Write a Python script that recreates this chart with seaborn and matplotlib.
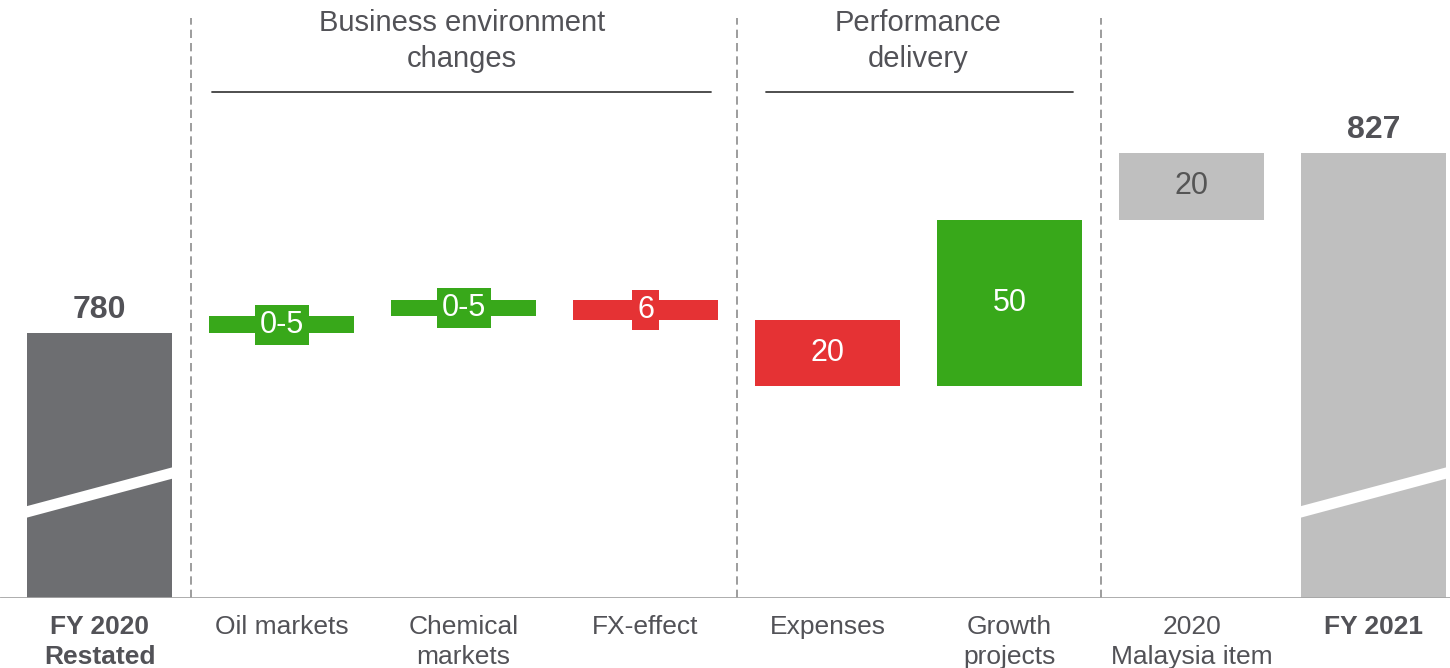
import numpy as np
import pandas as pd
import matplotlib
matplotlib.use("Agg")
import matplotlib.pyplot as plt
import seaborn as sns

# data
categories = ["FY 2020\nRestated", "Oil markets", "Chemical\nmarkets", "FX-effect",
              "Expenses", "Growth\nprojects", "2020\nMalaysia item", "FY 2021"]
start_value = 780
deltas = [5, 5, -6, -20, 50, 20]
delta_labels = ["0-5", "0-5", "6", "20", "50", "20"]
start_label = "780"
end_label = "827"
groups = ["Business environment\nchanges", "Performance\ndelivery"]

# styles
DARK = "#6d6e71"
LIGHT = "#bfbfbf"
GREEN = "#38a81a"
RED = "#e53234"
TXT = "#525257"
bar_colors = [DARK, GREEN, GREEN, RED, RED, GREEN, LIGHT, LIGHT]

sns.set_theme(style="white")
plt.rcParams["font.family"] = ["Liberation Sans", "DejaVu Sans"]

# waterfall geometry
cum = np.concatenate([[start_value], start_value + np.cumsum(deltas)])
bottoms = [0] + [min(cum[i], cum[i + 1]) for i in range(len(deltas))] + [0]
heights = [start_value] + [abs(d) for d in deltas] + [cum[-1]]
df = pd.DataFrame({"cat": categories, "height": heights, "bottom": bottoms})

fig = plt.figure(figsize=(14.5, 6.68), dpi=100)
ax = fig.add_axes([0, 70 / 668, 1, 598 / 668])

sns.barplot(data=df, x="cat", y="height", bottom=df["bottom"].values, color=DARK,
            width=0.8, saturation=1, ax=ax)
for p, c in zip(ax.patches, bar_colors):
    p.set_facecolor(c)
    p.set_edgecolor("none")

y0, y1 = 700.5, 879.9
ax.set_ylim(y0, y1)
ax.set_xlim(-0.547, 7.42)
sns.despine(ax=ax, left=True, top=True, right=True, bottom=True)
ax.set_yticks([])
ax.set_xlabel("")
ax.set_ylabel("")
ax.axhline(y0, color="#a6a6a6", lw=2, zorder=5)

# x labels
ax.set_xticks(range(len(categories)))
ax.set_xticklabels(categories, fontsize=19, color=TXT, linespacing=1.34)
ax.tick_params(axis="x", length=0, pad=12)
for i in (0, len(categories) - 1):
    ax.get_xticklabels()[i].set_fontweight("bold")

# axis break stripes on total bars
for i in (0, len(categories) - 1):
    xs = [i - 0.4, i + 0.4, i + 0.4, i - 0.4]
    ys = [724.6, 736.3, 739.7, 728.05]
    ax.fill(xs, ys, color="white", lw=0, zorder=3)

# value labels
ax.annotate(start_label, (0, start_value), xytext=(0, 6), textcoords="offset points",
            ha="center", va="bottom", fontsize=23, fontweight="bold", color=TXT)
ax.annotate(end_label, (len(categories) - 1, cum[-1]), xytext=(0, 6), textcoords="offset points",
            ha="center", va="bottom", fontsize=23, fontweight="bold", color=TXT)
for k, (lab, d) in enumerate(zip(delta_labels, deltas)):
    i = k + 1
    mid = (cum[k] + cum[k + 1]) / 2
    col = bar_colors[i]
    if abs(d) < 10:
        ax.text(i, mid, lab, ha="center", va="center", fontsize=22, color="white",
                bbox=dict(boxstyle="square,pad=0.16", fc=col, ec="none"), zorder=4)
    else:
        ax.text(i, mid, lab, ha="center", va="center", fontsize=22,
                color="#555555" if col == LIGHT else "white", zorder=4)

# separators
for x in (0.5, 3.5, 5.5):
    ax.axvline(x, ymin=0, ymax=0.97, color="#8c8c8c", lw=1.2, ls=(0, (5, 3)), zorder=1)

# group headers
for (x0, x1), xc, g in zip([(0.618, 3.36), (3.66, 5.35)], [1.99, 4.5], groups):
    ax.plot([x0, x1], [0.846, 0.846], transform=ax.get_xaxis_transform(),
            color="#404040", lw=1.3, clip_on=False)
    ax.text(xc, 0.932, g, transform=ax.get_xaxis_transform(), ha="center", va="center",
            fontsize=21, color=TXT, linespacing=1.36)

plt.savefig("out.png", dpi=100)
